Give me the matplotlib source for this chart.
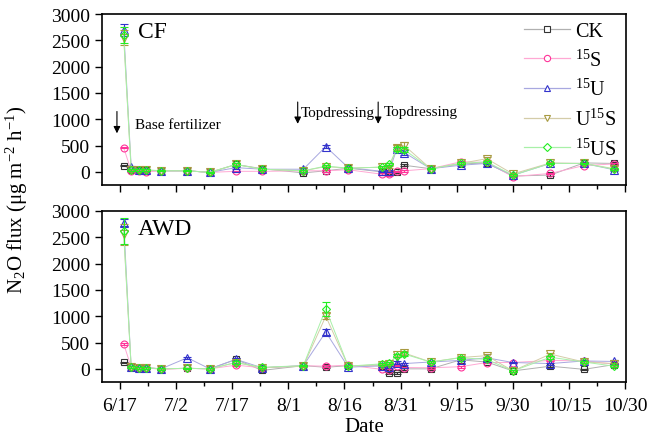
import matplotlib
matplotlib.use("Agg")
import matplotlib.pyplot as plt
import numpy as np

plt.rcParams['font.family'] = ['Liberation Serif', 'DejaVu Serif']
plt.rcParams['mathtext.fontset'] = 'custom'
plt.rcParams['mathtext.rm'] = 'Liberation Serif'
plt.rcParams['mathtext.it'] = 'Liberation Serif:italic'
plt.rcParams['mathtext.default'] = 'regular'

# Days after 6/17
days = [1, 3, 5, 7, 11, 18, 24, 31, 38, 49, 55, 61, 70, 72, 74, 76, 83, 91, 98, 105, 115, 124, 132]
tick_days = [0, 15, 30, 45, 60, 75, 90, 105, 120, 135]
tick_labels = ['6/17', '7/2', '7/17', '8/1', '8/16', '8/31', '9/15', '9/30', '10/15', '10/30']

series_names = ['CK', '$^{15}$S', '$^{15}$U', 'U$^{15}$S', '$^{15}$US']

# CF panel
cf_ck   = [120, 40, 30, 30, 20, 20, -10, 140, 60, -20, 20, 70, 0, 10, 0, 125, 60, 150, 170, -80, -60, 170, 160]
cf_s15  = [460, 20, 10, 0, 20, 20, -10, 10, 10, 20, 20, 40, -45, -50, 10, 20, 60, 190, 180, -90, -30, 120, 150]
cf_u15  = [2700, 100, 40, 30, 20, 20, -10, 80, 50, 50, 480, 80, 10, 20, 440, 365, 60, 125, 160, -65, 160, 160, 40]
cf_u15s = [2550, 40, 40, 30, 20, 20, -10, 140, 50, 20, 100, 70, 90, 100, 460, 500, 60, 160, 250, -40, 170, 160, 60]
cf_us15 = [2600, 40, 40, 40, 20, 20, -10, 140, 50, 20, 110, 70, 90, 145, 430, 420, 60, 160, 190, -65, 160, 160, 50]

cf_ck_e   = [10, 15, 15, 15, 10, 10, 15, 20, 15, 15, 15, 15, 15, 15, 15, 15, 15, 20, 20, 15, 15, 15, 20]
cf_s15_e  = [15, 15, 15, 15, 10, 10, 15, 15, 15, 15, 15, 15, 20, 20, 15, 15, 15, 25, 20, 15, 15, 15, 20]
cf_u15_e  = [110, 20, 15, 15, 10, 10, 15, 20, 15, 15, 30, 15, 15, 15, 40, 50, 15, 20, 20, 15, 15, 15, 20]
cf_u15s_e = [140, 15, 15, 15, 10, 10, 15, 20, 15, 15, 15, 15, 20, 20, 50, 60, 15, 20, 30, 15, 15, 15, 20]
cf_us15_e = [160, 15, 15, 15, 10, 10, 15, 20, 15, 15, 15, 15, 20, 20, 40, 50, 15, 20, 25, 15, 15, 15, 20]

# AWD panel
awd_ck   = [127, 30, 20, 20, 0, 10, 0, 178, -30, 60, 30, 60, 55, -80, -80, 0, 0, 170, 130, -40, 50, -10, 80]
awd_s15  = [477, 30, 20, 20, -10, 10, 0, 70, 20, 60, 50, 70, -10, -20, 60, 25, 20, 40, 120, 120, 160, 150, 90]
awd_u15  = [2780, 30, 20, 20, 0, 210, 0, 180, 20, 60, 700, 30, 60, 30, 116, 100, 130, 160, 210, 120, 100, 150, 140]
awd_u15s = [2560, 30, 20, 20, 0, 10, 0, 120, 20, 50, 1000, 50, 80, 100, 255, 300, 130, 215, 250, -40, 280, 130, 100]
awd_us15 = [2620, 30, 20, 20, 0, 10, 0, 120, 30, 60, 1140, 50, 95, 105, 250, 280, 130, 210, 180, -40, 220, 130, 50]

awd_ck_e   = [10, 15, 15, 15, 15, 10, 15, 20, 15, 15, 15, 15, 15, 15, 15, 15, 15, 20, 15, 15, 15, 15, 15]
awd_s15_e  = [15, 15, 15, 15, 15, 10, 15, 15, 15, 15, 15, 15, 20, 20, 15, 15, 15, 15, 15, 15, 20, 15, 15]
awd_u15_e  = [70, 15, 15, 15, 15, 20, 15, 20, 15, 15, 60, 15, 20, 20, 25, 20, 15, 20, 20, 15, 20, 20, 25]
awd_u15s_e = [200, 15, 15, 15, 15, 10, 15, 20, 15, 15, 60, 15, 20, 20, 30, 30, 15, 20, 30, 15, 30, 20, 20]
awd_us15_e = [250, 15, 15, 15, 15, 10, 15, 20, 15, 15, 130, 15, 20, 20, 30, 35, 15, 20, 20, 15, 30, 20, 20]

marker_colors = ['#333333', '#FF3399', '#3333CC', '#A89A40', '#22EE22']
line_colors = ['#B0B0B0', '#FFA8D4', '#A8A8E0', '#D4CCA8', '#A8F0A8']
markers = ['s', 'o', '^', 'v', 'D']
msizes = [4.5, 5, 5.5, 5.5, 4.5]

panels = [
    ('CF', [cf_ck, cf_s15, cf_u15, cf_u15s, cf_us15], [cf_ck_e, cf_s15_e, cf_u15_e, cf_u15s_e, cf_us15_e]),
    ('AWD', [awd_ck, awd_s15, awd_u15, awd_u15s, awd_us15], [awd_ck_e, awd_s15_e, awd_u15_e, awd_u15s_e, awd_us15_e]),
]

fig = plt.figure(figsize=(6.52, 4.39), dpi=100)
ax_top = fig.add_axes([0.1564, 0.5763, 0.8036, 0.3895])
ax_bot = fig.add_axes([0.1564, 0.1276, 0.8036, 0.3895])

handles = []
for ax, (title, vals, errs) in zip([ax_top, ax_bot], panels):
    for i in range(5):
        ax.plot(days, vals[i], color=line_colors[i], lw=0.7, zorder=1 + i)
        ax.errorbar(days, vals[i], yerr=errs[i], fmt='none', ecolor=marker_colors[i],
                    elinewidth=0.8, capsize=3, capthick=0.8, zorder=2 + i)
        ax.plot(days, vals[i], linestyle='none', marker=markers[i], ms=msizes[i],
                mfc='none', mec=marker_colors[i], mew=0.8, zorder=3 + i)
        if ax is ax_top:
            h, = ax.plot([], [], color=line_colors[i], lw=0.9, marker=markers[i], ms=msizes[i] - 0.5,
                         mfc='white', mec=marker_colors[i], mew=0.8)
            handles.append(h)
    ax.set_xlim(-4.8, 135.2)
    ax.set_ylim(-250, 3000)
    ax.set_yticks([0, 500, 1000, 1500, 2000, 2500, 3000])
    ax.set_xticks(tick_days)
    ax.set_xticks([d + 7.5 for d in tick_days[:-1]], minor=True)
    ax.tick_params(axis='both', which='major', direction='out', length=5, width=1, labelsize=14)
    ax.tick_params(axis='x', which='major', pad=6)
    ax.tick_params(axis='x', which='minor', direction='out', length=3, width=1)
    for sp in ax.spines.values():
        sp.set_linewidth(1.2)
    ax.text(0.068, 0.96, title, transform=ax.transAxes, fontsize=17, va='top', ha='left')

ax_top.set_xticklabels([])
ax_bot.set_xticklabels(tick_labels)
ax_bot.set_xlabel('Date', fontsize=15, labelpad=2)

leg = ax_top.legend(handles, series_names, loc='upper left', bbox_to_anchor=(0.805, 0.955),
                    frameon=False, fontsize=14.5, handlelength=2.3, labelspacing=0.42,
                    borderpad=0, borderaxespad=0, handletextpad=0.25)

# annotations
ax_top.annotate('', xy=(-0.8, 680), xytext=(-0.8, 1200),
                arrowprops=dict(arrowstyle='-|>', color='black', lw=0.8, mutation_scale=10))
ax_top.text(4, 900, 'Base fertilizer', fontsize=11, va='center', ha='left')
ax_top.annotate('', xy=(47.5, 860), xytext=(47.5, 1380),
                arrowprops=dict(arrowstyle='-|>', color='black', lw=0.8, mutation_scale=10))
ax_top.text(48.3, 1120, 'Topdressing', fontsize=11, va='center', ha='left')
ax_top.annotate('', xy=(69.0, 860), xytext=(69.0, 1380),
                arrowprops=dict(arrowstyle='-|>', color='black', lw=0.8, mutation_scale=10))
ax_top.text(70.5, 1140, 'Topdressing', fontsize=11, va='center', ha='left')

fig.text(0.026, 0.545, 'N$_2$O flux (μg m$^{-2}$ h$^{-1}$)', rotation=90, fontsize=15,
         va='center', ha='center')

fig.savefig('out.png', dpi=100)
